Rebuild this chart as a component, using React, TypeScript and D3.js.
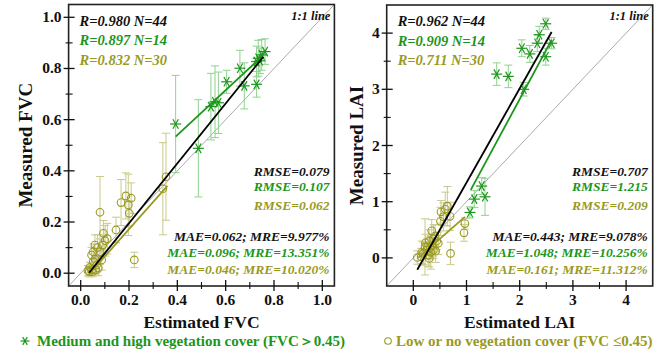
import React from 'react';
import * as d3 from 'd3';

// [estimated, measured, error half-length]
const fvcHigh: number[][] = [
  [0.393, 0.583, 0.19], [0.487, 0.488, 0.19], [0.539, 0.651, 0.13], [0.556, 0.670, 0.14],
  [0.570, 0.666, 0.12], [0.604, 0.748, 0.045], [0.659, 0.801, 0.07], [0.677, 0.732, 0.09],
  [0.728, 0.738, 0.05], [0.728, 0.827, 0.06], [0.735, 0.840, 0.07], [0.742, 0.830, 0.05],
  [0.749, 0.853, 0.06], [0.763, 0.866, 0.05]
];
const fvcLow: number[][] = [
  [0.080, 0.238, 0.14], [0.167, 0.276, 0.09], [0.187, 0.302, 0.09], [0.209, 0.293, 0.06],
  [0.197, 0.267, 0.12], [0.201, 0.234, 0.05], [0.146, 0.169, 0.05], [0.094, 0.156, 0.05],
  [0.101, 0.127, 0.06], [0.091, 0.110, 0.04], [0.059, 0.110, 0.04], [0.052, 0.084, 0.03],
  [0.080, 0.084, 0.05], [0.045, 0.071, 0.03], [0.087, 0.052, 0.04], [0.052, 0.045, 0.03],
  [0.066, 0.032, 0.03], [0.038, 0.023, 0.02], [0.045, 0.013, 0.02], [0.063, 0.013, 0.02],
  [0.073, 0.020, 0.03], [0.035, 0.006, 0.02], [0.049, 0.006, 0.02], [0.222, 0.052, 0.03],
  [0.030, 0.010, 0.02], [0.353, 0.377, 0.17], [0.340, 0.330, 0.18], [0.070, 0.100, 0.05],
  [0.110, 0.135, 0.06], [0.060, 0.055, 0.03]
];
const laiHigh: number[][] = [
  [2.489, 4.166, 0.1], [2.368, 3.97, 0.15], [2.33, 3.82, 0.15], [2.04, 3.73, 0.15],
  [2.19, 3.63, 0.15], [2.49, 3.58, 0.15], [2.60, 3.82, 0.1], [1.567, 3.27, 0.2],
  [1.786, 3.23, 0.2], [2.075, 3.00, 0.12], [1.285, 1.278, 0.15], [1.147, 1.046, 0.15],
  [1.348, 1.087, 0.33], [1.066, 0.809, 0.1]
];
const laiLow: number[][] = [
  [0.075, 0.007, 0.12], [0.22, 0.196, 0.5], [0.346, 0.481, 0.2], [0.30, 0.30, 0.2],
  [0.44, 0.30, 0.15], [0.52, 0.82, 0.2], [0.565, 0.73, 0.25], [0.64, 0.92, 0.35],
  [0.60, 0.87, 0.3], [0.69, 0.74, 0.25], [0.70, 0.08, 0.2], [0.953, 0.446, 0.15],
  [0.97, 0.61, 0.1], [0.19, 0.08, 0.2], [0.28, 0.05, 0.2], [0.376, 0.137, 0.15],
  [0.47, 0.26, 0.2], [0.25, 0.14, 0.15], [0.30, -0.01, 0.15], [0.36, 0.22, 0.2],
  [0.41, 0.39, 0.2], [0.51, 0.65, 0.25], [0.16, 0.10, 0.2], [0.27, 0.20, 0.15],
  [0.33, 0.10, 0.3], [0.42, 0.12, 0.2], [0.23, 0.27, 0.15], [0.38, 0.34, 0.25],
  [0.15, 0.02, 0.15], [0.32, 0.18, 0.2]
];

// fitted lines [all, high, low] as start/end points
const fvcFits: number[][][] = [
  [[0.035, 0.002], [0.756, 0.846]],
  [[0.393, 0.534], [0.749, 0.846]],
  [[0.038, 0.0], [0.359, 0.341]]
];
const laiFits: number[][][] = [
  [[0.075, -0.21], [2.60, 4.02]],
  [[1.08, 1.21], [2.60, 3.88]],
  [[0.09, 0.0], [0.97, 0.73]]
];

const fvcStatsR = ['R=0.980 N=44', 'R=0.897 N=14', 'R=0.832 N=30'];
const fvcStatsRmse = ['RMSE=0.079', 'RMSE=0.107', 'RMSE=0.062'];
const fvcStatsMae = ['MAE=0.062; MRE=9.977%', 'MAE=0.096; MRE=13.351%', 'MAE=0.046; MRE=10.020%'];
const laiStatsR = ['R=0.962 N=44', 'R=0.909 N=14', 'R=0.711 N=30'];
const laiStatsRmse = ['RMSE=0.707', 'RMSE=1.215', 'RMSE=0.209'];
const laiStatsMae = ['MAE=0.443; MRE=9.078%', 'MAE=1.048; MRE=10.256%', 'MAE=0.161; MRE=11.312%'];

const fvcMajor = [0, 0.2, 0.4, 0.6, 0.8, 1.0];
const fvcMinor = [0.1, 0.3, 0.5, 0.7, 0.9];
const laiMajor = [0, 1, 2, 3, 4];
const laiMinor = [0.5, 1.5, 2.5, 3.5];

const statColors = ['#111111', '#1b961b', '#9a9a22'];
const GREEN = '#1b961b';
const GREEN_BAR = '#8fd38f';
const OLIVE = '#9a9a22';
const OLIVE_BAR = '#c9c98c';
const serif = '"Liberation Serif", "Times New Roman", serif';

const asterisk = (x: number, y: number, k: string, r = 5) => {
  const angs = [0, 60, 120];
  return (
    <g key={k} stroke={GREEN} strokeWidth={1.2}>
      {angs.map(a => {
        const dx = r * Math.cos((a * Math.PI) / 180);
        const dy = r * Math.sin((a * Math.PI) / 180);
        return <line key={a} x1={x - dx} y1={y - dy} x2={x + dx} y2={y + dy} />;
      })}
    </g>
  );
};

type PanelProps = {
  xRange: [number, number];
  yRange: [number, number];
  domain: [number, number];
  major: number[];
  minor: number[];
  fmt: (v: number) => string;
  high: number[][];
  low: number[][];
  fits: number[][][];
  statsR: string[];
  statsRmse: string[];
  statsMae: string[];
  xTitle: string;
  yTitle: string;
  yTitleX: number;
};

const Panel = (p: PanelProps) => {
  const x = d3.scaleLinear().domain(p.domain).range(p.xRange);
  const y = d3.scaleLinear().domain(p.domain).range(p.yRange);
  const [x0, x1] = p.xRange;
  const [y0, y1] = p.yRange; // y0 bottom, y1 top
  const cap = 4;
  const line = d3.line<number[]>().x(d => x(d[0])).y(d => y(d[1]));

  return (
    <g fontFamily={serif}>
      {/* 1:1 line */}
      <line x1={x(p.domain[0])} y1={y(p.domain[0])} x2={x(p.domain[1])} y2={y(p.domain[1])}
        stroke="#a0a0a0" strokeWidth={0.9} />

      {/* error bars */}
      {p.low.map((d, i) => (
        <g key={`le${i}`} stroke={OLIVE_BAR} strokeWidth={1}>
          <line x1={x(d[0])} x2={x(d[0])} y1={Math.min(y(d[1] - d[2]), y0)} y2={y(d[1] + d[2])} />
          <line x1={x(d[0]) - cap} x2={x(d[0]) + cap} y1={y(d[1] + d[2])} y2={y(d[1] + d[2])} />
          {y(d[1] - d[2]) < y0 && (
            <line x1={x(d[0]) - cap} x2={x(d[0]) + cap} y1={y(d[1] - d[2])} y2={y(d[1] - d[2])} />
          )}
        </g>
      ))}
      {p.high.map((d, i) => (
        <g key={`he${i}`} stroke={GREEN_BAR} strokeWidth={1}>
          <line x1={x(d[0])} x2={x(d[0])} y1={y(d[1] - d[2])} y2={y(d[1] + d[2])} />
          <line x1={x(d[0]) - cap} x2={x(d[0]) + cap} y1={y(d[1] + d[2])} y2={y(d[1] + d[2])} />
          <line x1={x(d[0]) - cap} x2={x(d[0]) + cap} y1={y(d[1] - d[2])} y2={y(d[1] - d[2])} />
        </g>
      ))}

      {/* markers */}
      {p.low.map((d, i) => (
        <circle key={`lc${i}`} cx={x(d[0])} cy={y(d[1])} r={3.8} fill="none" stroke={OLIVE} strokeWidth={1.1} />
      ))}
      {p.high.map((d, i) => asterisk(x(d[0]), y(d[1]), `ha${i}`, 5.5))}

      {/* fitted lines */}
      {[p.fits[2], p.fits[1], p.fits[0]].map((f, i) => (
        <path key={`f${i}`} d={line(f) || ''} fill="none" stroke={[OLIVE, GREEN, '#000'][i]} strokeWidth={1.8} />
      ))}

      {/* frame */}
      <rect x={x0} y={y1} width={x1 - x0} height={y0 - y1} fill="none" stroke="#222" strokeWidth={1.6} />

      {/* ticks */}
      {p.major.map(t => (
        <g key={`mj${t}`} stroke="#111" strokeWidth={1.3}>
          <line x1={x(t)} x2={x(t)} y1={y0 - 6} y2={y0 + 5} />
          <line x1={x0 - 5} x2={x0 + 6} y1={y(t)} y2={y(t)} />
        </g>
      ))}
      {p.minor.map(t => (
        <g key={`mn${t}`} stroke="#111" strokeWidth={1.1}>
          <line x1={x(t)} x2={x(t)} y1={y0 - 4} y2={y0 + 3} />
          <line x1={x0 - 3} x2={x0 + 4} y1={y(t)} y2={y(t)} />
        </g>
      ))}
      {p.major.map(t => (
        <text key={`xl${t}`} x={x(t)} y={y0 + 19} textAnchor="middle" fontSize={15.5} fontWeight="bold" fill="#111">
          {p.fmt(t)}
        </text>
      ))}
      {p.major.map(t => (
        <text key={`yl${t}`} x={x0 - 7} y={y(t) + 5} textAnchor="end" fontSize={15.5} fontWeight="bold" fill="#111">
          {p.fmt(t)}
        </text>
      ))}

      {/* titles */}
      <text x={(x0 + x1) / 2} y={y0 + 42} textAnchor="middle" fontSize={17.5} fontWeight="bold" fill="#111">
        {p.xTitle}
      </text>
      <text transform={`translate(${p.yTitleX}, ${(y0 + y1) / 2}) rotate(-90)`} textAnchor="middle"
        fontSize={19} fontWeight="bold" fill="#111">
        {p.yTitle}
      </text>

      {/* annotations */}
      <text x={x1 - 4} y={y1 + 15} textAnchor="end" fontSize={12.5} fontStyle="italic" fontWeight="bold" fill="#111">
        1:1 line
      </text>
      {p.statsR.map((s, i) => (
        <text key={`r${i}`} x={x0 + 11} y={y1 + 21 + i * 19.6} fontSize={14.5} fontStyle="italic"
          fontWeight="bold" fill={statColors[i]}>
          {s}
        </text>
      ))}
      {p.statsRmse.map((s, i) => (
        <text key={`rm${i}`} x={x1 - 5} y={[171, 186, 205][i] + 5} textAnchor="end" fontSize={13.5}
          fontStyle="italic" fontWeight="bold" fill={statColors[i]}>
          {s}
        </text>
      ))}
      {p.statsMae.map((s, i) => (
        <text key={`ma${i}`} x={x1 - 5} y={[236, 252, 269][i] + 5} textAnchor="end" fontSize={13.5}
          fontStyle="italic" fontWeight="bold" fill={statColors[i]}>
          {s}
        </text>
      ))}
    </g>
  );
};

const App = () => {
  const W = 669;
  const H = 354;
  return (
    <svg width={W} height={H} viewBox={`0 0 ${W} ${H}`}
      style={{ position: 'absolute', left: 0, top: 0, background: '#fff' }}>
      <Panel
        xRange={[68.6, 334.4]} yRange={[286, 4.5]} domain={[-0.05, 1.05]}
        major={fvcMajor} minor={fvcMinor} fmt={d3.format('.1f')}
        high={fvcHigh} low={fvcLow} fits={fvcFits}
        statsR={fvcStatsR} statsRmse={fvcStatsRmse} statsMae={fvcStatsMae}
        xTitle="Estimated FVC" yTitle="Measured FVC" yTitleX={32}
      />
      <Panel
        xRange={[386.7, 652.7]} yRange={[286, 5]} domain={[-0.5, 4.5]}
        major={laiMajor} minor={laiMinor} fmt={d3.format('d')}
        high={laiHigh} low={laiLow} fits={laiFits}
        statsR={laiStatsR} statsRmse={laiStatsRmse} statsMae={laiStatsMae}
        xTitle="Estimated LAI" yTitle="Measured LAI" yTitleX={363}
      />
      {/* legend */}
      {asterisk(25, 341, 'lg', 4.5)}
      <text x={37} y={346} fontFamily={serif} fontSize={15} fontWeight="bold" fill={GREEN}>
        Medium and high vegetation cover (FVC＞0.45)
      </text>
      <circle cx={388} cy={341} r={3.3} fill="none" stroke={OLIVE} strokeWidth={1.1} />
      <text x={396} y={346} fontFamily={serif} fontSize={15} fontWeight="bold" fill={OLIVE}>
        Low or no vegetation cover (FVC ≤0.45)
      </text>
    </svg>
  );
};

export default App;
